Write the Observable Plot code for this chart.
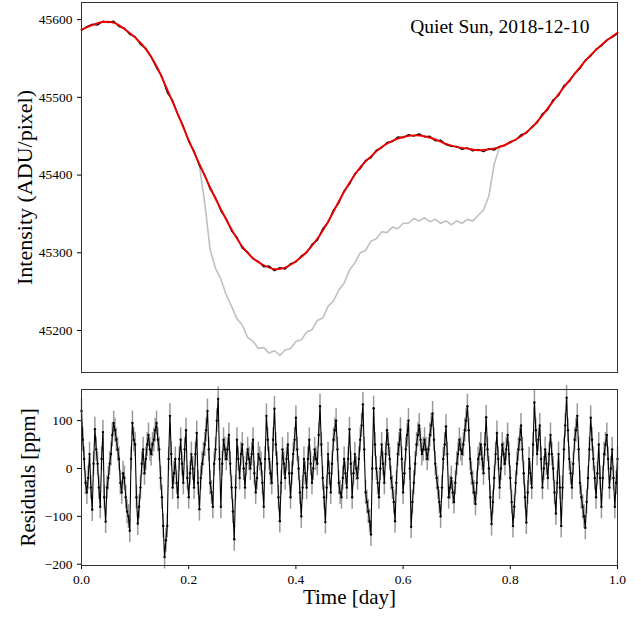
<!DOCTYPE html>
<html><head><meta charset="utf-8">
<script src="https://cdn.jsdelivr.net/npm/d3@7"></script>
<script src="https://cdn.jsdelivr.net/npm/@observablehq/plot@0.6"></script>
<style>body{margin:0;background:#fff} #chart svg{display:block}</style>
</head><body><div id="chart"></div>
<script>
const titleText = "Quiet Sun, 2018-12-10";
const yLabelTop = "Intensity (ADU/pixel)";
const yLabelBottom = "Residuals [ppm]";
const xLabel = "Time [day]";
const topTicks = [45200, 45300, 45400, 45500, 45600];
const bottomTicks = [-200, -100, 0, 100];
const xTicks = [0, 0.2, 0.4, 0.6, 0.8, 1.0];

// model fit (red), every 0.02 day from 0 to 1
const fitStep = 0.02;
const fitValues = [45587,45593,45597,45596,45588,45577,45562,45540,45510,45478,
45445,45414,45384,45356,45330,45308,45293,45284,45279,45281,
45289,45301,45318,45340,45366,45390,45410,45424,45436,45444,
45449,45451,45450,45446,45440,45436,45434,45432,45433,45436,
45442,45450,45461,45477,45495,45513,45530,45547,45561,45573,45583];

// corrected data (black), every 0.01 day
const dataStep = 0.01;
const dataValues = [45586,45591,45594,45593,45598,45596,45598,45591,45589,45581,
45578,45568,45563,45552,45538,45527,45506,45496,45477,45463,
45443,45431,45412,45400,45382,45371,45354,45344,45328,45320,
45306,45301,45292,45289,45282,45283,45277,45281,45279,45286,
45288,45296,45300,45311,45316,45331,45339,45355,45364,45380,
45388,45402,45408,45419,45422,45432,45435,45442,45443,45449,
45448,45452,45450,45453,45449,45450,45444,45445,45439,45437,
45437,45433,45435,45431,45433,45430,45434,45432,45437,45438,
45443,45445,45452,45454,45462,45467,45479,45484,45497,45502,
45515,45520,45531,45537,45548,45553,45562,45566,45574,45577,45582];

// uncorrected data (gray) where it departs from the corrected one, every 0.01 day from 0.21
const rawStart = 0.21;
const rawStep = 0.01;
const rawValues = [45431,45412,45364,45304,45280,45266,45246,45231,45215,45207,
45191,45186,45177,45178,45171,45174,45168,45175,45177,45186,
45188,45198,45201,45213,45216,45231,45238,45252,45261,45278,
45287,45300,45303,45315,45318,45327,45326,45333,45331,45338,
45338,45344,45341,45345,45340,45343,45338,45341,45336,45341,
45338,45343,45341,45348,45355,45373,45414,45436];

// residuals (ppm), every 0.005 day from 0
const residStep = 0.005;
const residValues = [120,20,-50,30,-86,82,10,-80,76,-111,
-20,30,95,60,20,-50,-20,-90,-130,95,
50,-115,-40,40,20,70,30,60,95,40,
-60,-185,-120,110,-40,20,-60,60,-30,80,
-60,30,-40,74,-85,10,50,120,-30,-80,
40,145,-80,60,20,70,-40,-148,60,-20,
50,-40,40,0,60,-50,30,10,-80,110,
20,-30,125,10,-110,40,-20,50,-60,30,
106,0,-100,20,-40,60,-30,40,10,130,
-20,-112,30,-50,60,100,-30,-60,20,-40,
82,-60,30,-20,60,134,-50,-90,-138,126,
0,-60,50,-30,80,20,-40,-110,30,81,
-50,40,100,-122,-30,50,90,30,60,20,
70,115,10,-40,-100,20,88,-60,-20,-70,
10,60,30,80,130,20,-30,-74,20,50,
-10,107,0,-116,-20,74,-40,50,10,70,
-20,-120,-30,40,90,-10,-113,20,-40,138,
30,90,-40,40,-20,70,0,-94,30,-120,
40,148,20,-40,60,110,-30,-80,-124,-20,
106,20,-60,50,-80,30,70,-40,40,-80,20];
// residuals (ppm) at the in-between times, every 0.005 day from 0.0025
const residMidStart = 0.0025;
const residMidValues = [60,-30,-20,-40,10,40,-40,20,-60,-40,
10,70,80,40,-30,-10,-60,-100,20,60,
-60,-80,10,-10,50,40,50,80,60,-20,
-120,-150,20,30,-10,-30,20,10,40,-20,
-10,0,30,-30,-20,30,80,40,-50,10,
100,20,10,40,40,10,-90,-40,20,30,
0,10,20,30,-10,-20,20,-30,20,60,
-10,60,50,-60,-30,10,20,-10,-10,60,
40,-50,-40,-10,20,10,0,20,70,50,
-60,-40,-10,10,80,40,-50,-20,-10,20,
10,-10,0,20,90,40,-70,-110,0,50,
-30,0,10,30,50,-20,-70,-30,50,20,
-10,70,0,-70,10,70,60,40,40,40,
90,60,-20,-70,-40,50,30,-40,-50,-30,
30,40,50,100,80,-10,-50,-30,30,20,
50,40,-60,-70,30,20,0,30,40,30,
-70,-80,10,60,40,-60,-50,-10,50,80,
60,20,0,10,30,30,-50,-30,-40,-40,
90,80,-10,10,80,40,-60,-100,-70,40,
60,-20,-10,-20,-20,50,20,0,-20,-30];
const residErr = 25;

const fit = fitValues.map((v, i) => ({t: i * fitStep, v}));
const data = dataValues.map((v, i) => ({t: i * dataStep, v}));
const raw = rawValues.map((v, i) => ({t: rawStart + i * rawStep, v}));
const resid = residValues.map((v, i) => ({t: i * residStep, v}))
  .concat(residMidValues.map((v, i) => ({t: residMidStart + i * residStep, v})))
  .sort((a, b) => a.t - b.t);

const font = '"Liberation Serif", "Times New Roman", serif';
const common = {
  width: 641, marginLeft: 81, marginRight: 24,
  style: {fontFamily: font, fontSize: "13.5px", color: "#000", background: "#fff", overflow: "visible"}
};

const topPlot = Plot.plot({
  ...common,
  height: 380, marginTop: 2, marginBottom: 8,
  x: {domain: [0, 1], axis: null},
  y: {domain: [45146, 45622], ticks: topTicks, tickFormat: "d", tickSize: 4, label: null},
  marks: [
    Plot.line(raw, {x: "t", y: "v", stroke: "#c0c0c0", strokeWidth: 1.6}),
    Plot.line(data, {x: "t", y: "v", stroke: "#000", strokeWidth: 1.3}),
    Plot.line(fit, {x: "t", y: "v", stroke: "#ee0000", strokeWidth: 1.9, curve: "catmull-rom"}),
    Plot.frame({stroke: "#333", strokeWidth: 1}),
    Plot.text([titleText], {frameAnchor: "top-right", text: d => d, dx: -28, dy: 17, fontSize: 19.5, textAnchor: "end", fill: "#000"}),
    Plot.text([yLabelTop], {frameAnchor: "left", text: d => d, rotate: -90, dx: -57, fontSize: 22, textAnchor: "middle", fill: "#000"})
  ]
});

const bottomPlot = Plot.plot({
  ...common,
  height: 237, marginTop: 9, marginBottom: 52,
  x: {domain: [0, 1], ticks: xTicks, tickFormat: ".1f", tickSize: 4, label: null},
  y: {domain: [-202.7, 165], ticks: bottomTicks, tickSize: 4, label: null},
  marks: [
    Plot.ruleX(resid, {x: "t", y1: d => d.v - residErr, y2: d => d.v + residErr, stroke: "#999", strokeWidth: 1.5}),
    Plot.line(resid, {x: "t", y: "v", stroke: "#000", strokeWidth: 1.1}),
    Plot.dot(resid, {x: "t", y: "v", r: 1.2, fill: "#000"}),
    Plot.frame({stroke: "#333", strokeWidth: 1}),
    Plot.text([yLabelBottom], {frameAnchor: "left", text: d => d, rotate: -90, dx: -53, fontSize: 21, textAnchor: "middle", fill: "#000"}),
    Plot.text([xLabel], {frameAnchor: "bottom", text: d => d, dy: 38, fontSize: 21, fill: "#000"})
  ]
});

document.getElementById("chart").append(topPlot, bottomPlot);
</script>
</body></html>
